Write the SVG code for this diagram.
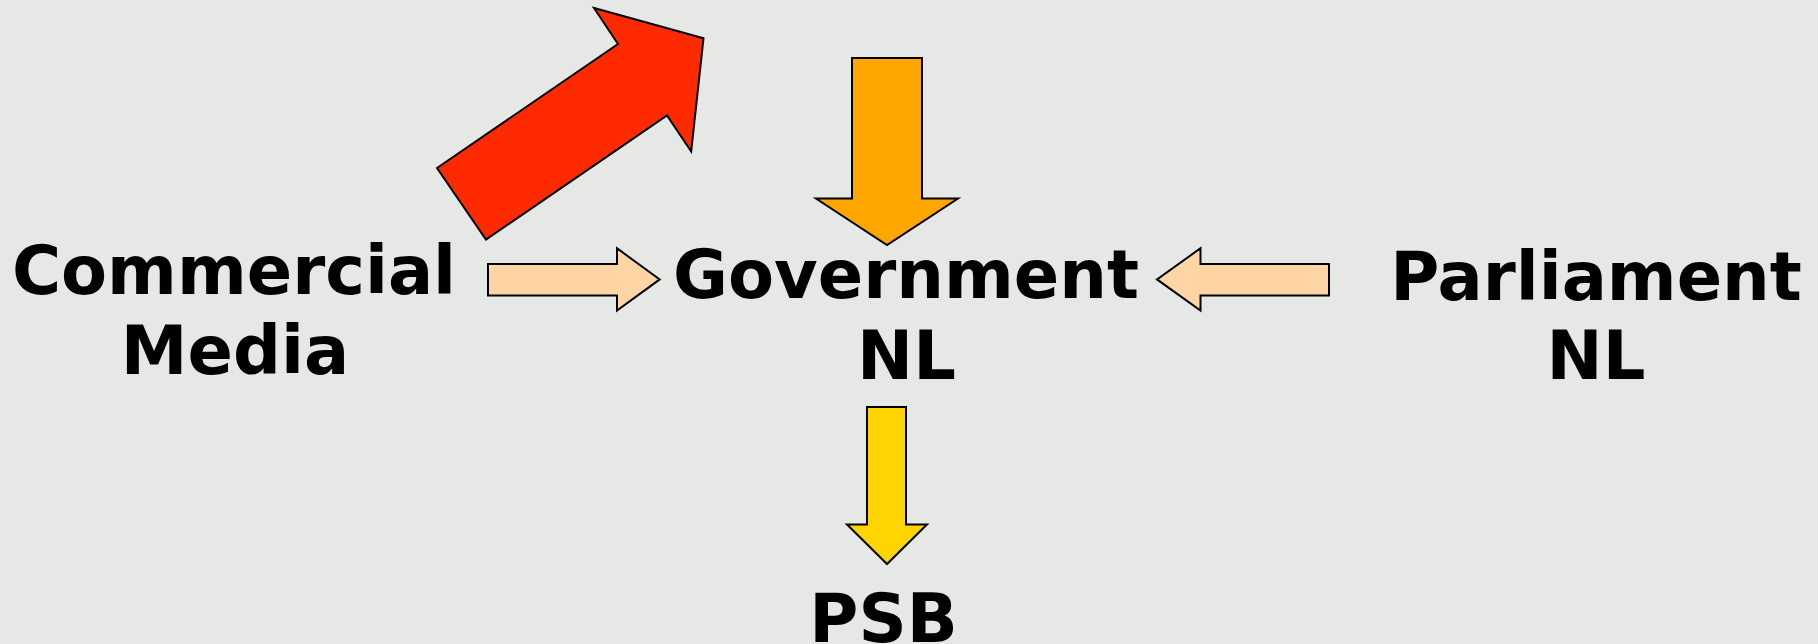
<svg xmlns="http://www.w3.org/2000/svg" width="1818" height="644" viewBox="0 0 1818 644">
<style>
.lbl{font-family:"DejaVu Sans","Verdana",sans-serif;font-weight:bold;font-size:67px;fill:#000;text-anchor:middle}
.arr{stroke:#000;stroke-width:2;stroke-linejoin:miter}
</style>
<rect x="0" y="0" width="1818" height="644" fill="#e6e8e6"/>
<g id="connectors">
<polygon id="red-arrow" class="arr" fill="#ff2a00" points="437,168 618,44 594,8 703.5,38.3 691.2,151.5 667,115.5 486,239.5"/>
<polygon id="orange-arrow" class="arr" fill="#ffa700" points="852,58 922,58 922,198.5 958,198.5 887,245 816,198.5 852,198.5"/>
<polygon id="commercial-to-gov" class="arr" fill="#ffd5a6" points="488,264 617,264 617,248.3 659.7,279.4 617,310.6 617,295.4 488,295.4"/>
<polygon id="parliament-to-gov" class="arr" fill="#ffd5a6" points="1329,264 1200.5,264 1200.5,248.3 1157,279.4 1200.5,310.6 1200.5,295.4 1329,295.4"/>
<polygon id="gov-to-psb" class="arr" fill="#ffd500" points="867,407 906,407 906,524.5 927,524.5 887,564 847,524.5 867,524.5"/>
</g>
<g id="commercial-media">
<text class="lbl" x="234" y="293.5">Commercial</text>
<text class="lbl" x="235" y="373.5">Media</text>
</g>
<g id="government-nl">
<text class="lbl" x="906" y="298">Government</text>
<text class="lbl" x="906.5" y="378.5">NL</text>
</g>
<g id="parliament-nl">
<text class="lbl" x="1596" y="300">Parliament</text>
<text class="lbl" x="1596" y="379">NL</text>
</g>
<g id="psb">
<text class="lbl" x="883.5" y="642">PSB</text>
</g>
</svg>
